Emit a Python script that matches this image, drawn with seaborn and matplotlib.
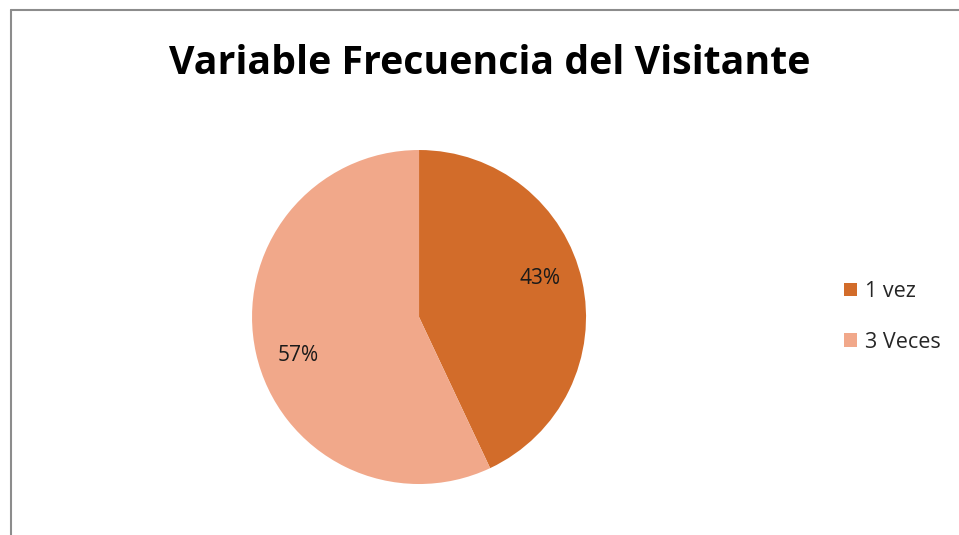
import matplotlib
matplotlib.use("Agg")
import numpy as np
import matplotlib.pyplot as plt
import seaborn as sns
from matplotlib.lines import Line2D
from matplotlib.patches import Patch

# Data
categories = ['1 vez', '3 Veces']
shares = [43, 57]
colors = ['#D26C2A', '#F1A88A']

sns.set_theme(style='white')
plt.rcParams['font.family'] = ['Open Sans', 'DejaVu Sans']

fig = plt.figure(figsize=(9.59, 5.35), dpi=100)
ax = fig.add_axes([0.2628, 0.0953, 0.3483, 0.6243])

wedges, texts, autotexts = ax.pie(
    shares, colors=colors, startangle=90, counterclock=False,
    autopct='%1.0f%%', pctdistance=0.76,
    wedgeprops={'linewidth': 0, 'edgecolor': 'none'},
    textprops={'fontsize': 15, 'color': '#1a1a1a'},
)
# nudge the percentage labels a little anticlockwise, like the original
for w, t in zip(wedges, autotexts):
    ang = np.deg2rad((w.theta1 + w.theta2) / 2 + 5)
    t.set_position((0.76 * np.cos(ang), 0.76 * np.sin(ang)))
ax.set_xlim(-1, 1)
ax.set_ylim(-1, 1)
ax.set_aspect('equal')

fig.text(0.511, 0.882, 'Variable Frecuencia del Visitante', ha='center', va='center',
         fontsize=28.3, fontweight='bold', color='black')

handles = [Patch(facecolor=c, edgecolor='none') for c in colors]
fig.legend(handles, categories, loc='center left', bbox_to_anchor=(0.860, 0.4075),
           frameon=False, fontsize=15.5, handlelength=0.6, handleheight=0.6,
           handletextpad=0.35, labelspacing=1.38)

# chart-area border (top and left visible)
fig.add_artist(Line2D([0.011, 1.0], [0.982, 0.982], color='#8c8c8c', lw=1.5))
fig.add_artist(Line2D([0.011, 0.011], [0.0, 0.982], color='#8c8c8c', lw=1.5))

fig.savefig('out.png', dpi=100, facecolor='white')
